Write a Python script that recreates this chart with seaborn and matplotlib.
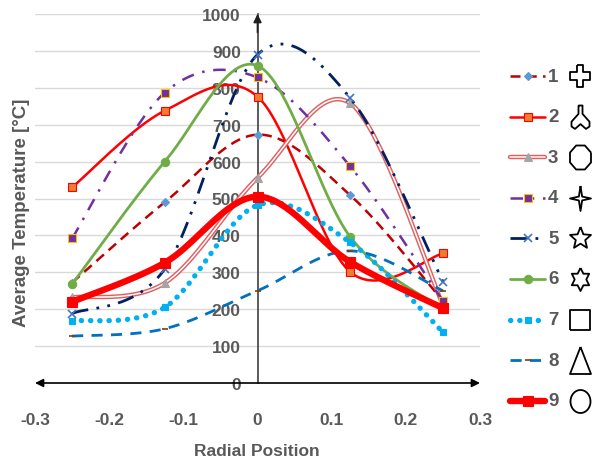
import numpy as np
import pandas as pd
import seaborn as sns
import matplotlib
matplotlib.use("Agg")
import matplotlib.pyplot as plt

# radial positions and temperature of each case
x_pos = [-0.25, -0.125, 0, 0.125, 0.25]
t1 = [272, 490, 673, 509, 222]
t2 = [530, 738, 776, 301, 351]
t3 = [232, 271, 556, 758, 212]
t4 = [392, 787, 828, 587, 222]
t5 = [188, 309, 890, 772, 275]
t6 = [268, 600, 860, 396, 200]
t7 = [168, 205, 482, 381, 138]
t8 = [127, 147, 250, 358, 250]
t9 = [220, 326, 505, 328, 203]
labels = ["1", "2", "3", "4", "5", "6", "7", "8", "9"]
x_ticks = [-0.3, -0.2, -0.1, 0, 0.1, 0.2, 0.3]
y_ticks = list(range(0, 1001, 100))

sns.set_theme(style="white")
plt.rcParams["font.family"] = ["Liberation Sans", "DejaVu Sans"]
txt = "#595959"


def smooth(xs, ys, n=40):
    # excel-like smoothed line (bezier through the points)
    P = np.column_stack([xs, ys]).astype(float)
    out = []
    for i in range(len(P) - 1):
        p0 = P[max(i - 1, 0)]
        p1 = P[i]
        p2 = P[i + 1]
        p3 = P[min(i + 2, len(P) - 1)]
        c1 = p1 + (p2 - p0) / 6
        c2 = p2 - (p3 - p1) / 6
        t = np.linspace(0, 1, n)[:, None]
        seg = (1 - t) ** 3 * p1 + 3 * (1 - t) ** 2 * t * c1 + 3 * (1 - t) * t ** 2 * c2 + t ** 3 * p2
        out.append(seg if i == 0 else seg[1:])
    return np.vstack(out)


styles = [
    dict(color="#C00000", lw=1.8, ls=(0, (4, 2.5)), marker="D", mfc="#5B9BD5", mec="#5B9BD5", ms=4.5),
    dict(color="#FF0000", lw=1.8, ls="-", marker="s", mfc="#ED7D31", mec="#FF0000", ms=6),
    dict(color="#E06060", lw=3.2, ls="-", marker="^", mfc="#A5A5A5", mec="#A5A5A5", ms=5.5, double=True),
    dict(color="#7030A0", lw=1.8, ls=(0, (5, 3.5, 1, 3.5)), marker="s", mfc="#7030A0", mec="#FFC000", ms=6),
    dict(color="#002060", lw=2.0, ls=(0, (6, 3, 1, 3, 1, 3)), marker="x", mfc="#4472C4", mec="#4472C4", ms=6),
    dict(color="#70AD47", lw=2.0, ls="-", marker="o", mfc="#70AD47", mec="#70AD47", ms=6),
    dict(color="#00B0F0", lw=3.8, ls=(0, (0.05, 1.7)), marker="s", mfc="#00B0F0", mec="#00B0F0", ms=4.5, cap="round"),
    dict(color="#0070C0", lw=2.0, ls=(0, (4, 3)), marker="_", mfc="#843C0C", mec="#843C0C", ms=5),
    dict(color="#FF0000", lw=4.6, ls="-", marker="s", mfc="#FF0000", mec="#FF0000", ms=6.5),
]
series = [t1, t2, t3, t4, t5, t6, t7, t8, t9]

fig = plt.figure(figsize=(5.92, 4.64), dpi=100)
ax = fig.add_axes([35 / 592, 80 / 464, 445 / 592, 369 / 464])

for k, (ys, st) in enumerate(zip(series, styles)):
    pts = smooth(x_pos, ys)
    df = pd.DataFrame({"x": pts[:, 0], "y": pts[:, 1]})
    sns.lineplot(data=df, x="x", y="y", ax=ax, sort=False, estimator=None,
                 color=st["color"], lw=st["lw"], linestyle=st["ls"],
                 dash_capstyle=st.get("cap", "butt"), zorder=3 + k)
    if st.get("double"):
        sns.lineplot(data=df, x="x", y="y", ax=ax, sort=False, estimator=None,
                     color="white", lw=1.1, zorder=3 + k)
    ax.plot(x_pos, ys, ls="none", marker=st["marker"], mfc=st["mfc"], mec=st["mec"],
            ms=st["ms"], mew=1.2 if st["marker"] in ("x", "_") else 0.8, zorder=3.5 + k)

ax.set_xlim(-0.3, 0.3)
ax.set_ylim(0, 1000)
ax.set_xticks(x_ticks)
ax.set_xticklabels(["-0.3", "-0.2", "-0.1", "0", "0.1", "0.2", "0.3"])
ax.set_yticks(y_ticks)
ax.set_xlabel("")
ax.set_ylabel("")
ax.yaxis.grid(True, color="#D9D9D9", lw=1)
ax.xaxis.grid(False)
ax.set_axisbelow(True)
for s in ["top", "right", "bottom"]:
    ax.spines[s].set_visible(False)
ax.spines["left"].set_position(("data", 0))
ax.spines["left"].set_color("#404040")
ax.spines["left"].set_linewidth(1.2)
ax.tick_params(axis="y", length=0, pad=12, labelsize=12.5, labelcolor=txt)
ax.tick_params(axis="x", length=0, pad=21, labelsize=12.5, labelcolor=txt)
for lab in ax.get_xticklabels() + ax.get_yticklabels():
    lab.set_fontweight("bold")

ax.annotate("", xy=(0.3, 0), xytext=(-0.3, 0),
            arrowprops=dict(arrowstyle="<|-|>", color="black", lw=1.2,
                            shrinkA=0, shrinkB=0, mutation_scale=12), annotation_clip=False)
ax.annotate("", xy=(0, 1000), xytext=(0, 950),
            arrowprops=dict(arrowstyle="-|>", color="#202020", lw=1.2,
                            shrinkA=0, shrinkB=0, mutation_scale=12), annotation_clip=False)

fig.text(22 / 592, 1 - 213 / 464, "Average Temperature [°C]", rotation=90,
         ha="center", va="center", fontsize=13.5, fontweight="bold", color=txt)
fig.text(257 / 592, 1 - 452 / 464, "Radial Position", ha="center", va="center",
         fontsize=12.5, fontweight="bold", color=txt)


# legend drawn by hand: line sample, number, outline shape
def star(n, inner, w, h):
    a = np.pi / 2 + np.arange(2 * n) * np.pi / n
    r = np.where(np.arange(2 * n) % 2 == 0, 1.0, inner)
    return list(zip(r * np.cos(a) * w / 2, r * np.sin(a) * h / 2))


def poly(n, w, h, off):
    a = np.deg2rad(off + np.arange(n) * 360 / n)
    return list(zip(np.cos(a) * w / 2, np.sin(a) * h / 2))


plus = [(-0.33, 1), (0.33, 1), (0.33, 0.33), (1, 0.33), (1, -0.33), (0.33, -0.33),
        (0.33, -1), (-0.33, -1), (-0.33, -0.33), (-1, -0.33), (-1, 0.33), (-0.33, 0.33)]
plus = [(x * 10, y * 11) for x, y in plus]
tref = [(-0.2, 1), (0.2, 1), (0.2, 0.3), (0.9, -0.35), (0.9, -0.75), (0.55, -0.95),
        (0, -0.55), (-0.55, -0.95), (-0.9, -0.75), (-0.9, -0.35), (-0.2, 0.3)]
tref = [(x * 10, y * 12) for x, y in tref]
shapes = [
    (plus, 22),
    (tref, 24),
    (poly(8, 21, 24, 22.5), 24),
    (star(4, 0.22, 21, 25), 25),
    (star(5, 0.45, 23, 24), 23),
    (star(6, 0.58, 20, 23), 23),
    ([(-10, -10), (10, -10), (10, 10), (-10, 10)], 20),
    ([(0, 13.5), (10.5, -13.5), (-10.5, -13.5)], 27),
    (poly(60, 20, 23, 0), 23),
]

lax = fig.add_axes([0, 0, 1, 1], facecolor="none")
lax.set_xlim(0, 592)
lax.set_ylim(464, 0)
lax.axis("off")
for k, (st, (verts, size)) in enumerate(zip(styles, shapes)):
    yy = 77 + 40.6 * k
    lax.plot([510, 545], [yy, yy], color=st["color"], lw=st["lw"], ls=st["ls"],
             dash_capstyle=st.get("cap", "butt"))
    if st.get("double"):
        lax.plot([510, 545], [yy, yy], color="white", lw=1.1)
    lax.plot([527.5], [yy], ls="none", marker=st["marker"], mfc=st["mfc"], mec=st["mec"],
             ms=st["ms"], mew=1.2 if st["marker"] in ("x", "_") else 0.8)
    lax.text(548, yy, labels[k], ha="left", va="center", fontsize=13.5,
             fontweight="bold", color=txt)
    verts = list(verts) + [verts[0]]
    lax.plot([580], [yy], ls="none", marker=verts, ms=size * 0.72, mfc="white",
             mec="black", mew=1.3)

fig.savefig("out.png", dpi=100)
